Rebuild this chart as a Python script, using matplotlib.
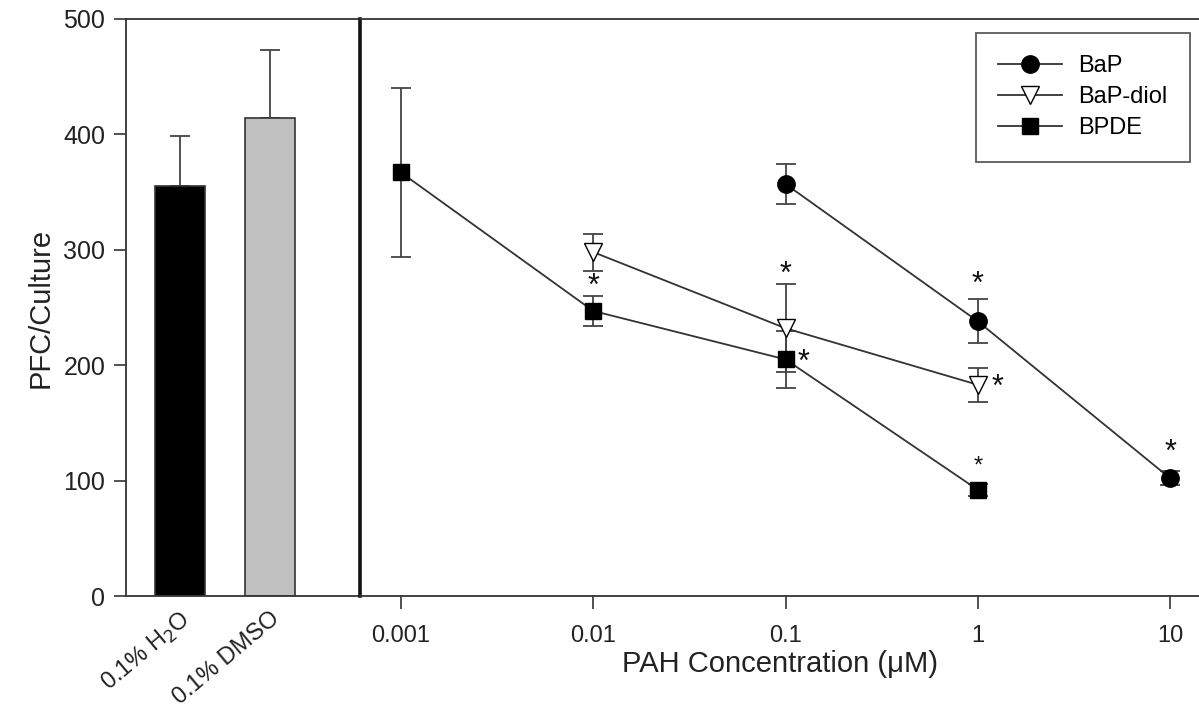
import matplotlib
matplotlib.use("Agg")
import matplotlib.pyplot as plt
from matplotlib.lines import Line2D
import numpy as np

plt.rcParams['font.family'] = ['Liberation Sans', 'DejaVu Sans']

# ---- data ----
bar_labels = ["0.1% H$_2$O", "0.1% DMSO"]
bar_values = [355, 414]
bar_errors = [44, 59]
bar_colors = ["#000000", "#c0c0c0"]

conc_bap = [0.1, 1, 10]
bap = [357, 238, 102]
bap_err = [17, 19, 6]

conc_diol = [0.01, 0.1, 1]
diol = [298, 232, 183]
diol_err = [16, 38, 15]

conc_bpde = [0.001, 0.01, 0.1, 1]
bpde = [367, 247, 205, 92]
bpde_err = [73, 13, 25, 5]

star_x = [0.01, 0.1, 0.124, 1, 1.27, 1, 10]
star_y = [268, 278, 202, 270, 180, 112, 124]
star_size = [22, 22, 22, 22, 22, 17, 22]

x_ticks = [0.001, 0.01, 0.1, 1, 10]
x_ticklabels = ["0.001", "0.01", "0.1", "1", "10"]
y_ticks = [0, 100, 200, 300, 400, 500]

W, H = 1199, 712
fig = plt.figure(figsize=(W / 100, H / 100), dpi=100)
fig.patch.set_facecolor("white")

y0, y1 = 596, 19
axL = fig.add_axes([126 / W, (H - y0) / H, (360 - 126) / W, (y0 - y1) / H])
axR = fig.add_axes([360 / W, (H - y0) / H, (W - 360) / W, (y0 - y1) / H])

spine_col = "#333333"
line_col = "#333333"
txt_col = "#222222"

# ---- left: bars ----
pos = np.arange(len(bar_values))
axL.bar(pos, bar_values, width=0.556, color=bar_colors, edgecolor="#333333", linewidth=1.2, zorder=2)
axL.errorbar(pos, bar_values, yerr=[np.zeros(len(bar_errors)), bar_errors], fmt="none",
             ecolor="#444444", elinewidth=1.3, capsize=7, capthick=1.3, zorder=1)
axL.set_xlim(-0.6, 2.0)
axL.set_ylim(0, 500)
axL.set_yticks(y_ticks)
axL.set_xticks(pos)
axL.set_xticklabels(bar_labels, rotation=40, ha="right", rotation_mode="anchor", fontsize=17, color=txt_col)
axL.tick_params(axis="x", length=0, pad=8)
axL.tick_params(axis="y", direction="out", length=9, width=1.2, color=spine_col, labelsize=18,
                labelcolor=txt_col, pad=6)
for s in ["left", "bottom", "top"]:
    axL.spines[s].set_color(spine_col)
    axL.spines[s].set_linewidth(1.3)
axL.spines["right"].set_visible(False)
axL.set_ylabel("PFC/Culture", fontsize=21, color=txt_col, labelpad=6)

# ---- right: lines ----
axR.set_xscale("log")
axR.set_xlim(10 ** -3.213, 10 ** 1.15)
axR.set_ylim(0, 500)
ekw = dict(ecolor="#444444", elinewidth=1.3, capsize=7, capthick=1.3)
axR.errorbar(conc_bap, bap, yerr=bap_err, fmt="-o", color=line_col, mfc="black", mec="black",
             ms=12.5, lw=1.3, **ekw)
axR.errorbar(conc_diol, diol, yerr=diol_err, fmt="-v", color=line_col, mfc="white", mec="black",
             ms=12.5, lw=1.3, **ekw)
axR.errorbar(conc_bpde, bpde, yerr=bpde_err, fmt="-s", color=line_col, mfc="black", mec="black",
             ms=11, lw=1.3, **ekw)
for xs, ys, fs in zip(star_x, star_y, star_size):
    axR.text(xs, ys, "*", ha="center", va="center", fontsize=fs, color="#111111")

axR.set_xticks(x_ticks)
axR.set_xticklabels(x_ticklabels)
axR.minorticks_off()
axR.set_yticks([])
axR.tick_params(axis="x", direction="out", length=9, width=1.2, color=spine_col, labelsize=17,
                labelcolor=txt_col, pad=12)
axR.spines["left"].set_linewidth(2.6)
axR.spines["left"].set_color("#111111")
axR.spines["right"].set_visible(False)
for s in ["bottom", "top"]:
    axR.spines[s].set_color(spine_col)
    axR.spines[s].set_linewidth(1.3)
axR.set_xlabel("PAH Concentration (μM)", fontsize=21, color=txt_col, labelpad=2)

handles = [
    Line2D([], [], color=line_col, lw=1.3, marker="o", mfc="black", mec="black", ms=12.5),
    Line2D([], [], color=line_col, lw=1.3, marker="v", mfc="white", mec="black", ms=12.5),
    Line2D([], [], color=line_col, lw=1.3, marker="s", mfc="black", mec="black", ms=11),
]
leg = axR.legend(handles, ["BaP", "BaP-diol", "BPDE"], loc="upper right",
                 bbox_to_anchor=((1190 - 360) / (W - 360), (596 - 33) / (596 - 19)),
                 borderaxespad=0, frameon=True, fancybox=False, edgecolor="#333333", fontsize=17,
                 handlelength=2.7, handletextpad=0.7, borderpad=0.95, labelspacing=0.38)
leg.get_frame().set_linewidth(1.3)

fig.savefig("out.png", dpi=100, facecolor="white")
